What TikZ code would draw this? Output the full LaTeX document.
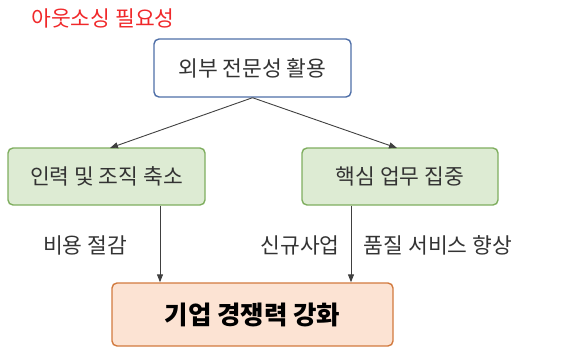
\documentclass[tikz,border=0pt]{standalone}
\usepackage{fontspec}
\setmainfont{Noto Sans CJK KR}
\usetikzlibrary{arrows.meta}
\definecolor{bluebd}{HTML}{4F6FA8}
\definecolor{greenbd}{HTML}{7FAE5F}
\definecolor{greenfl}{HTML}{DDEBD3}
\definecolor{orangebd}{HTML}{D27A3E}
\definecolor{orangefl}{HTML}{FCE3D3}
\definecolor{titlered}{HTML}{F0282A}
\tikzset{
  box/.style={draw, line width=1.4pt, rounded corners=5pt, inner sep=0pt, align=center, font=\fontsize{21.5}{24}\selectfont, text=black!80},
  conn/.style={draw=black!75, line width=0.9pt, -{Triangle[length=8pt,width=6pt]}},
  lbl/.style={font=\fontsize{21.5}{24}\selectfont, text=black!80, inner sep=0pt}
}
\begin{document}
\begin{tikzpicture}[x=1pt,y=-1pt]
\useasboundingbox (0,0) rectangle (582,362);
\node[font=\fontsize{21.5}{24}\selectfont, text=titlered, inner sep=0pt] (title) at (103,18) {아웃소싱 필요성};
\node[box, draw=bluebd, fill=white, minimum width=197pt, minimum height=58pt] (top) at (252.5,68) {외부 전문성 활용};
\node[box, draw=greenbd, fill=greenfl, minimum width=197pt, minimum height=57pt] (left) at (106.5,176.5) {인력 및 조직 축소};
\node[box, draw=greenbd, fill=greenfl, minimum width=196pt, minimum height=57pt] (right) at (400,176.5) {핵심 업무 집중};
\node[box, draw=orangebd, fill=orangefl, minimum width=281pt, minimum height=63pt, font=\fontsize{25.5}{28}\selectfont\bfseries, text=black] (bottom) at (252.5,314.5) {기업 경쟁력 강화};
\coordinate (lt) at (110,148);
\coordinate (rt) at (397,148);
\draw[conn] (top.south) -- (lt);
\draw[conn] (top.south) -- (rt);
\draw[conn] (left.south -| 160,0) -- (bottom.north -| 160,0);
\draw[conn] (right.south -| 351,0) -- (bottom.north -| 351,0);
\node[lbl] (l1) at (85,245) {비용 절감};
\node[lbl] (l2) at (300,245) {신규사업};
\node[lbl] (l3) at (438,245) {품질 서비스 향상};
\end{tikzpicture}
\end{document}
